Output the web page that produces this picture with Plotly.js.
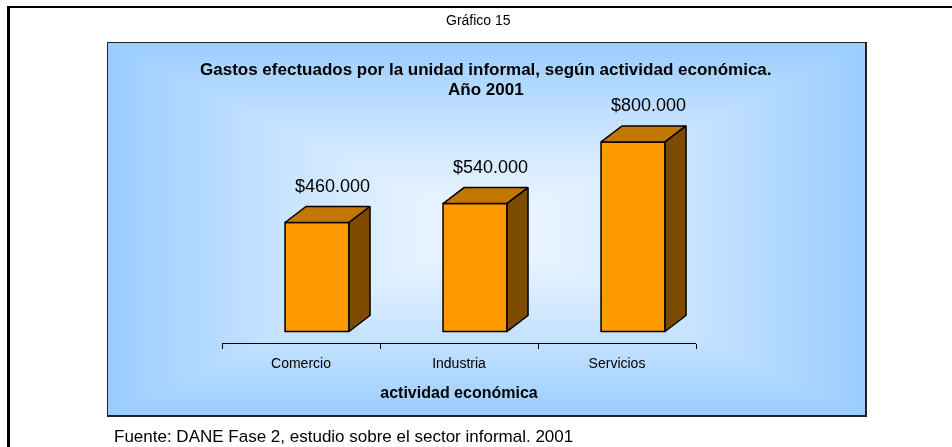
<!DOCTYPE html>
<html>
<head>
<meta charset="utf-8">
<script src="https://cdn.plot.ly/plotly-3.0.1.min.js"></script>
<style>
    html, body { margin: 0; padding: 0; background: #fff; overflow: hidden; }
    #frame { position: absolute; left: 7px; top: 6px; width: 1000px; height: 500px;
             border-left: 3px solid #000; border-top: 2px solid #000; }
    #panel { position: absolute; left: 107px; top: 42px; }
    #chart { position: absolute; left: 0; top: 0; width: 952px; height: 447px; }
</style>
</head>
<body>
<div id="frame"></div>
<canvas id="panel" width="760" height="375"></canvas>
<div id="chart"></div>
<script>
// data
var categories = ['Comercio', 'Industria', 'Servicios'];
var gastos = [460000, 540000, 800000];
var titleLines = ['Gastos efectuados por la unidad informal, según actividad económica.', 'Año 2001'];
var xTitle = 'actividad económica';
var figureLabel = 'Gráfico 15';
var source = 'Fuente: DANE Fase 2, estudio sobre el sector informal. 2001';

// plot geometry (pixels)
var W = 952, H = 447;
var margins = {l: 222, r: 256, t: 100, b: 104, pad: 0};
var plotW = W - margins.l - margins.r;
var plotH = H - margins.t - margins.b;
var baseGap = 11.5;                 // floor of the bars sits above the axis line
var pxPerUnit = 109 / 460000;
var yMin = -baseGap / pxPerUnit;
var yMax = yMin + plotH / pxPerUnit;

// fake 3d look
var barOffset = -0.101, barWidth = 0.405;
var depthX = 21 / 158, depthY = 16 / pxPerUnit;
var colors = {front: '#FF9900', top: '#C27700', side: '#7D4B00', edge: '#000'};

function fmt(v) {
    return '$' + String(v).replace(/\B(?=(\d{3})+(?!\d))/g, '.');
}
function pxX(p) { return (p - margins.l) / plotW; }
function pxY(p) { return (H - margins.b - p) / plotH; }

// background panel: rectangular gradient from the centre
(function () {
    var c = document.getElementById('panel');
    var ctx = c.getContext('2d');
    var w = c.width, h = c.height;
    var img = ctx.createImageData(w, h);
    var inner = [238, 246, 255], outer = [153, 204, 255];
    var cx = w / 2, cy = h / 2;
    for (var y = 0; y < h; y++) {
        for (var x = 0; x < w; x++) {
            var t = Math.max(Math.abs(x - cx) / cx, Math.abs(y - cy) / cy);
            t = Math.pow(Math.min(1, t), 1.3);
            var i = (y * w + x) * 4;
            img.data[i] = inner[0] + (outer[0] - inner[0]) * t;
            img.data[i + 1] = inner[1] + (outer[1] - inner[1]) * t;
            img.data[i + 2] = inner[2] + (outer[2] - inner[2]) * t;
            img.data[i + 3] = 255;
        }
    }
    ctx.putImageData(img, 0, 0);
    ctx.strokeStyle = '#222';
    ctx.lineWidth = 1;
    ctx.strokeRect(0.5, 0.5, w - 2, h - 2);
    ctx.fillStyle = '#222';
    ctx.fillRect(w - 2, 0, 2, h);
    ctx.fillRect(0, h - 2, w, 2);
})();

var traces = [];
var xs = categories.map(function (c, i) { return i; });

// front faces
traces.push({
    type: 'bar',
    x: xs,
    y: gastos,
    base: 0,
    width: barWidth,
    offset: barOffset,
    marker: {color: colors.front, line: {color: colors.edge, width: 1.5}},
    hoverinfo: 'skip',
    cliponaxis: false
});

// top and side faces
gastos.forEach(function (v, i) {
    var x0 = i + barOffset, x1 = x0 + barWidth;
    traces.push({
        type: 'scatter', mode: 'lines', fill: 'toself',
        x: [x0, x1, x1 + depthX, x0 + depthX, x0],
        y: [v, v, v + depthY, v + depthY, v],
        fillcolor: colors.top,
        line: {color: colors.edge, width: 1.5},
        hoverinfo: 'skip', cliponaxis: false
    });
    traces.push({
        type: 'scatter', mode: 'lines', fill: 'toself',
        x: [x1, x1 + depthX, x1 + depthX, x1, x1],
        y: [0, depthY, v + depthY, v, 0],
        fillcolor: colors.side,
        line: {color: colors.edge, width: 1.5},
        hoverinfo: 'skip', cliponaxis: false
    });
});

// carrier for the category axis
traces.push({
    type: 'scatter', mode: 'none', xaxis: 'x2',
    x: xs, y: gastos.map(function () { return 0; }),
    hoverinfo: 'skip'
});

var annotations = gastos.map(function (v, i) {
    return {
        xref: 'x', yref: 'y',
        x: i + barOffset + barWidth / 2 + 0.095,
        y: v + depthY,
        yanchor: 'bottom', yshift: 9,
        text: fmt(v), showarrow: false,
        font: {size: 18, color: '#000'}
    };
});
annotations.push({
    xref: 'paper', yref: 'paper', x: pxX(478), y: pxY(20),
    xanchor: 'center', yanchor: 'middle',
    text: figureLabel, showarrow: false, font: {size: 14, color: '#000'}
});
titleLines.forEach(function (line, i) {
    annotations.push({
        xref: 'paper', yref: 'paper', x: pxX(486), y: pxY(70 + i * 20),
        xanchor: 'center', yanchor: 'middle',
        text: '<b>' + line + '</b>', showarrow: false, font: {size: 17, color: '#000'}
    });
});
annotations.push({
    xref: 'paper', yref: 'paper', x: pxX(112), y: pxY(436.5),
    xanchor: 'left', yanchor: 'middle',
    text: source, showarrow: false, font: {size: 17, color: '#000'}
});

var layout = {
    width: W,
    height: H,
    margin: margins,
    paper_bgcolor: 'rgba(0,0,0,0)',
    plot_bgcolor: 'rgba(0,0,0,0)',
    showlegend: false,
    font: {family: 'Liberation Sans, Arial, sans-serif', color: '#000'},
    xaxis: {
        range: [-0.5, 2.5],
        tickvals: [-0.5, 0.5, 1.5, 2.5],
        ticktext: ['', '', '', ''],
        ticks: 'outside', ticklen: 5, tickwidth: 1, tickcolor: '#000',
        showline: true, linecolor: '#000', linewidth: 1,
        showgrid: false, zeroline: false, fixedrange: true
    },
    xaxis2: {
        overlaying: 'x', anchor: 'y', side: 'bottom',
        range: [-0.5, 2.5],
        tickvals: xs, ticktext: categories,
        ticks: '', showline: false, showgrid: false, zeroline: false,
        tickfont: {size: 14, color: '#000'},
        ticklabelstandoff: 10,
        title: {text: '<b>' + xTitle + '</b>', font: {size: 16, color: '#000'}, standoff: 16},
        fixedrange: true
    },
    yaxis: {range: [yMin, yMax], visible: false, fixedrange: true},
    annotations: annotations
};

Plotly.newPlot('chart', traces, layout, {displayModeBar: false, staticPlot: true});
</script>
</body>
</html>
